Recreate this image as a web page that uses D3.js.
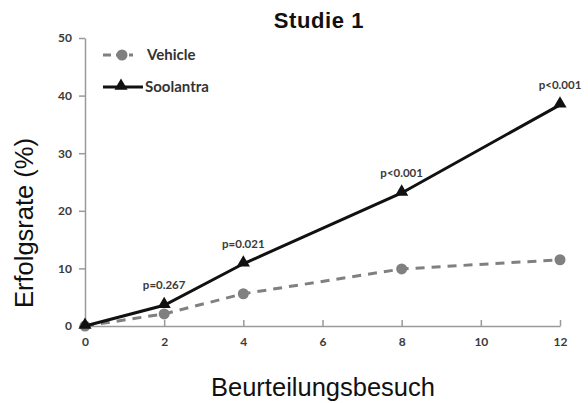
<!DOCTYPE html>
<html>
<head>
<meta charset="utf-8">
<script src="https://cdn.jsdelivr.net/npm/d3@7"></script>
<style>
  body { margin: 0; background: #fff; }
  svg { display: block; }
</style>
</head>
<body>
<svg id="chart" width="588" height="403"></svg>
<script>
// Data
var visits = [0, 2, 4, 8, 12];
var vehicle = [0, 2.1, 5.6, 9.9, 11.5];
var soolantra = [0, 3.6, 10.8, 23.1, 38.4];
var pLabels = ["", "p=0.267", "p=0.021", "p<0.001", "p<0.001"];
var xTicks = [0, 2, 4, 6, 8, 10, 12];
var yTicks = [0, 10, 20, 30, 40, 50];

var margin = { top: 38, right: 28, bottom: 77, left: 85 };
var width = 588 - margin.left - margin.right;
var height = 403 - margin.top - margin.bottom;

var svg = d3.select("#chart");
var g = svg.append("g")
    .attr("transform", "translate(" + margin.left + "," + margin.top + ")");

var x = d3.scaleLinear().domain([0, 12]).range([0, width]);
var y = d3.scaleLinear().domain([0, 50]).range([height, 0]);

var axisColor = "#9a9a9a";
var smallFont = "Lato, 'Open Sans', sans-serif";
var bigFont = "'Liberation Sans', Arial, sans-serif";

// Y axis
var yAxis = g.append("g").call(d3.axisLeft(y).tickValues(yTicks).tickSize(6).tickSizeOuter(0));
yAxis.select(".domain").attr("stroke", axisColor).attr("stroke-width", 1.5);
yAxis.selectAll(".tick line").attr("stroke", axisColor).attr("stroke-width", 1.5);
yAxis.selectAll(".tick text")
    .attr("x", -13)
    .attr("fill", "#3a3a3a")
    .style("font-family", smallFont)
    .style("font-weight", "bold")
    .style("font-size", "12px");

// X axis (ticks point up into the plot)
var xAxis = g.append("g")
    .attr("transform", "translate(0," + height + ")")
    .call(d3.axisBottom(x).tickValues(xTicks).tickSize(-6).tickSizeOuter(0));
xAxis.select(".domain").attr("stroke", axisColor).attr("stroke-width", 1.5);
xAxis.selectAll(".tick line").attr("stroke", axisColor).attr("stroke-width", 1.5);
xAxis.selectAll(".tick text")
    .attr("y", 11)
    .attr("fill", "#3a3a3a")
    .style("font-family", smallFont)
    .style("font-weight", "bold")
    .style("font-size", "12px");

var vehData = visits.map(function (v, i) { return { x: v, y: vehicle[i] }; });
var sooData = visits.map(function (v, i) { return { x: v, y: soolantra[i], p: pLabels[i] }; });

var line = d3.line().x(function (d) { return x(d.x); }).y(function (d) { return y(d.y); });

// Vehicle line (dashed grey with circles)
g.append("path")
    .datum(vehData)
    .attr("d", line)
    .attr("fill", "none")
    .attr("stroke", "#808080")
    .attr("stroke-width", 3)
    .attr("stroke-dasharray", "9,7");

g.selectAll(".veh-dot")
    .data(vehData)
    .enter().append("circle")
    .attr("class", "veh-dot")
    .attr("cx", function (d) { return x(d.x); })
    .attr("cy", function (d) { return y(d.y); })
    .attr("r", 5.5)
    .attr("fill", "#808080");

// Soolantra line (solid black with triangles)
g.append("path")
    .datum(sooData)
    .attr("d", line)
    .attr("fill", "none")
    .attr("stroke", "#111")
    .attr("stroke-width", 3);

var tri = d3.symbol().type(d3.symbolTriangle).size(75);
g.selectAll(".soo-tri")
    .data(sooData)
    .enter().append("path")
    .attr("class", "soo-tri")
    .attr("transform", function (d) { return "translate(" + x(d.x) + "," + (y(d.y) - 1) + ")"; })
    .attr("d", tri)
    .attr("fill", "#111");

// p-value labels
g.selectAll(".plabel")
    .data(sooData.filter(function (d) { return d.p; }))
    .enter().append("text")
    .attr("class", "plabel")
    .attr("x", function (d) { return x(d.x); })
    .attr("y", function (d) { return y(d.y) - 16; })
    .attr("text-anchor", "middle")
    .attr("fill", "#3a3a3a")
    .style("font-family", smallFont)
    .style("font-weight", "bold")
    .style("font-size", "11.5px")
    .text(function (d) { return d.p; });

// Legend
var legend = g.append("g").attr("transform", "translate(18,17)");
legend.append("line")
    .attr("x1", 0).attr("x2", 30).attr("y1", 0).attr("y2", 0)
    .attr("stroke", "#808080").attr("stroke-width", 3).attr("stroke-dasharray", "8,5");
legend.append("circle").attr("cx", 19).attr("cy", 0).attr("r", 5.5).attr("fill", "#808080");
legend.append("text")
    .attr("x", 44).attr("y", 5)
    .attr("fill", "#333")
    .style("font-family", smallFont)
    .style("font-weight", "bold")
    .style("font-size", "15px")
    .text("Vehicle");

legend.append("line")
    .attr("x1", 0).attr("x2", 40).attr("y1", 32).attr("y2", 32)
    .attr("stroke", "#111").attr("stroke-width", 3);
legend.append("path")
    .attr("transform", "translate(18,31)")
    .attr("d", tri)
    .attr("fill", "#111");
legend.append("text")
    .attr("x", 42).attr("y", 37)
    .attr("fill", "#333")
    .style("font-family", smallFont)
    .style("font-weight", "bold")
    .style("font-size", "15px")
    .text("Soolantra");

// Title and axis titles
svg.append("text")
    .attr("x", 319).attr("y", 28)
    .attr("text-anchor", "middle")
    .attr("fill", "#111")
    .style("font-family", bigFont)
    .style("font-weight", "bold")
    .style("font-size", "22px")
    .style("letter-spacing", "0.6px")
    .text("Studie 1");

svg.append("text")
    .attr("x", 323).attr("y", 396)
    .attr("text-anchor", "middle")
    .attr("fill", "#111")
    .style("font-family", bigFont)
    .style("font-size", "25.5px")
    .text("Beurteilungsbesuch");

svg.append("text")
    .attr("transform", "translate(33,223) rotate(-90)")
    .attr("text-anchor", "middle")
    .attr("fill", "#111")
    .style("font-family", bigFont)
    .style("font-size", "25.5px")
    .text("Erfolgsrate (%)");
</script>
</body>
</html>
